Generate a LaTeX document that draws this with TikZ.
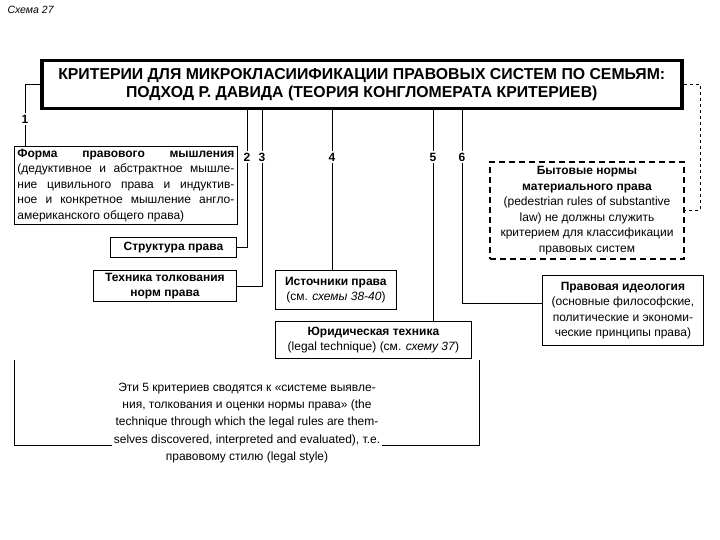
\documentclass[tikz,border=0pt]{standalone}
\usepackage{fontspec}
\setmainfont{Liberation Sans}
\usetikzlibrary{calc}
\newcommand\bodyfs{\fontsize{12}{15.5}\selectfont}
\begin{document}
\begin{tikzpicture}[x=1pt,y=-1pt,
  box/.style={draw,line width=0.8pt,inner xsep=3pt,inner ysep=1pt,align=center,font=\bodyfs,anchor=north west},
  conn/.style={line width=0.8pt},
  lab/.style={fill=white,inner sep=1.5pt,font=\bfseries\fontsize{12}{14}\selectfont}]
\useasboundingbox (0,0) rectangle (720,540);

\node[anchor=west,font=\itshape\fontsize{10.5}{12}\selectfont] (schema) at (4,10) {Схема 27};

\node[draw,line width=3.5pt,anchor=north west,minimum width=640,minimum height=48,align=center,
  font=\bfseries\fontsize{15.8}{18}\selectfont] (title) at (40,59)
  {КРИТЕРИИ ДЛЯ МИКРОКЛАСИИФИКАЦИИ ПРАВОВЫХ СИСТЕМ ПО СЕМЬЯМ:\\ПОДХОД Р. ДАВИДА (ТЕОРИЯ КОНГЛОМЕРАТА КРИТЕРИЕВ)};

\node[box,text width=217,minimum height=78,align=justify] (form) at (14,146)
  {\textbf{Форма}\hfill\textbf{правового}\hfill\textbf{мышления}\linebreak
   (дедуктивное и абстрактное мышле-\linebreak ние цивильного права и индуктив-\linebreak ное и конкретное мышление англо-\linebreak американского общего права)};

\node[box,minimum width=126,minimum height=20,font=\bfseries\bodyfs] (struct) at (110,237) {Структура права};
\node[box,minimum width=143,minimum height=31,font=\bfseries\bodyfs] (tech) at (93,270) {Техника толкования\\норм права};
\node[box,minimum width=121,minimum height=39] (ist) at (275,270) {\textbf{Источники права}\\(см. \textit{схемы 38-40})};
\node[box,minimum width=196,minimum height=37] (jur) at (275,321) {\textbf{Юридическая техника}\\(legal technique) (см. \textit{схему 37})};
\node[box,dashed,line width=2pt,dash pattern=on 6pt off 4pt,minimum width=194,minimum height=97] (byt) at (489,161)
  {\textbf{Бытовые нормы}\\\textbf{материального права}\\(pedestrian rules of substantive\\law) не должны служить\\критерием для классификации\\правовых систем};
\node[box,minimum width=161,minimum height=70] (ideo) at (542,275)
  {\textbf{Правовая идеология}\\(основные философские,\\политические и экономи-\\ческие принципы права)};

\coordinate (x1) at (25,0);
\coordinate (x2) at (247,0);
\coordinate (x3) at (262,0);
\coordinate (x4) at (332,0);
\coordinate (x5) at (433,0);
\coordinate (x6) at (462,0);
\coordinate (x7) at (700,0);

\draw[conn] (title.west) -| (x1 |- form.north);
\draw[conn] (x2 |- title.south) |- (struct.east);
\draw[conn] (x3 |- title.south) |- (tech.east);
\draw[conn] (x4 |- title.south) -- (x4 |- ist.north);
\draw[conn] (x5 |- title.south) -- (x5 |- jur.north);
\draw[conn] (x6 |- title.south) |- ($(ideo.north west)+(0,28)$);
\draw[conn,dashed] (title.east) -| (x7 |- byt.east) -- (byt.east);

\node[lab] (n1) at (25,119) {1};
\node[lab] (n2) at (247,157) {2};
\node[lab] (n3) at (262,157) {3};
\node[lab] (n4) at (332,157) {4};
\node[lab] (n5) at (433,157) {5};
\node[lab] (n6) at (462,157) {6};

\coordinate (bl) at (14,360);
\coordinate (bl2) at (14,445);
\coordinate (br) at (479,360);
\coordinate (br2) at (479,445);
\draw[conn] (bl) -- (bl2) -- (br2) -- (br);
\node[fill=white,inner sep=2pt,align=center,font=\fontsize{12}{17.2}\selectfont] (note) at (247,423)
  {Эти 5 критериев сводятся к «системе выявле-\\ния, толкования и оценки нормы права» (the\\technique through which the legal rules are them-\\selves discovered, interpreted and evaluated), т.е.\\правовому стилю (legal style)};
\end{tikzpicture}
\end{document}
